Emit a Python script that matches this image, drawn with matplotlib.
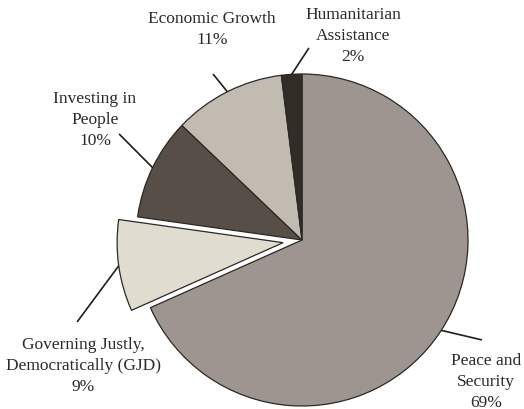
import numpy as np
import matplotlib
matplotlib.use("Agg")
import matplotlib.pyplot as plt

# Budget share by program area
labels = ["Peace and\nSecurity", "Governing Justly,\nDemocratically (GJD)",
          "Investing in\nPeople", "Economic Growth", "Humanitarian\nAssistance"]
shares = [69, 9, 10, 11, 2]
colors = ["#9e9590", "#e0ddd0", "#574e48", "#c1bbb1", "#332d28"]
explode = [0, 0.115, 0, 0, 0]

# label anchor (text centre) and leader-line end point, in pie-radius units
label_xy = [(1.108, -0.849), (-1.319, -0.753), (-1.247, 0.729),
            (-0.542, 1.274), (0.307, 1.235)]
leader_end = [(1.084, -0.602), (-1.355, -0.494), (-1.102, 0.639),
              (-0.536, 1.000), (0.042, 1.157)]

fig = plt.figure(figsize=(5.24, 4.10), dpi=100)
ax = fig.add_axes([0, 0, 1, 1])

wedges, _ = ax.pie(shares, colors=colors, explode=explode, startangle=90,
                   counterclock=False, radius=1.0,
                   wedgeprops=dict(edgecolor="#2b2825", linewidth=0.9))

ax.set_xlim(-302 / 166, (524 - 302) / 166)
ax.set_ylim(-169 / 166, 241 / 166)
ax.axis("off")

for w, txt, share, (tx, ty), (ex, ey) in zip(wedges, labels, shares,
                                             label_xy, leader_end):
    mid = np.deg2rad((w.theta1 + w.theta2) / 2)
    cx, cy = w.center
    sx, sy = cx + np.cos(mid) * 1.0, cy + np.sin(mid) * 1.0
    ax.plot([sx, ex], [sy, ey], color="#1e1e1e", linewidth=1.2,
            solid_capstyle="butt")
    ax.text(tx, ty, f"{txt}\n{share}%", ha="center", va="center",
            multialignment="center", fontsize=12.5, family="Liberation Serif",
            color="#2a2a2a", linespacing=1.4)

fig.savefig("out.png", dpi=100, facecolor="white")
